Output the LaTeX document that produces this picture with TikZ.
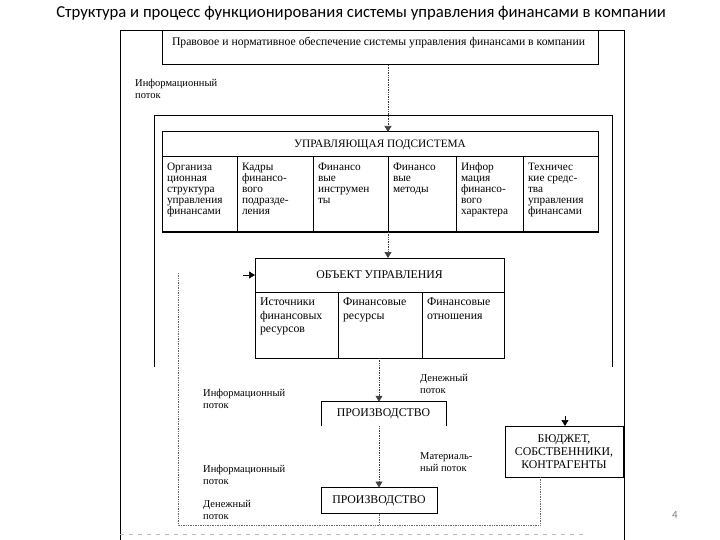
\documentclass[tikz,border=0pt]{standalone}
\usepackage{fontspec}
\setmainfont{Liberation Serif}
\newfontfamily\titlefont{Carlito}
\usepackage{tikz}
\usetikzlibrary{positioning, arrows.meta}

% text inside a cell, set from the top left corner
\newcommand{\celltext}[3]{\parbox[t][#2][t]{#1}{\vspace*{3pt}\raggedright #3}}

\begin{document}
\begin{tikzpicture}[x=1pt, y=-1pt,
  frame/.style={line width=1pt},
  box/.style={draw, line width=1pt, inner sep=0pt, outer sep=0pt, align=center, font=\fontsize{11.8}{13}\selectfont},
  cell/.style={draw, line width=1pt, inner xsep=5pt, inner ysep=3pt, outer sep=0pt, font=\fontsize{11.3}{11}\selectfont},
  ocell/.style={cell, font=\fontsize{11.8}{13.3}\selectfont},
  note/.style={anchor=north west, inner sep=0pt, align=left, font=\fontsize{10.5}{12}\selectfont},
  flow/.style={densely dotted, line width=0.7pt, draw=black!75, -{Triangle[length=6pt, width=7pt]}},
  link/.style={densely dotted, line width=0.7pt, draw=black!60},
  tip/.style={line width=0.7pt, -{Triangle[length=6pt, width=7pt]}}
]
  \useasboundingbox[fill=white] (0,0) rectangle (720,540);

  \node[font=\titlefont\fontsize{16.7}{20}\selectfont] (title) at (361,13)
    {Структура и процесс функционирования системы управления финансами в компании};

  % внешняя рамка
  \draw[frame] (120,540) -- (120,31) -- (624,31) -- (624,540);

  \node[box, anchor=north west, inner xsep=10pt, inner ysep=3pt, font=\fontsize{11.7}{13}\selectfont] (legal) at (162,31)
    {\celltext{416pt}{28pt}{Правовое и нормативное обеспечение системы управления финансами в компании}};
  \node[note] (info1) at (135,79) {Информационный\\поток};

  % управляющая подсистема
  \draw[frame] (154,367) -- (154,116) -- (612,116) -- (612,367);
  \node[box, anchor=north west, minimum width=436, minimum height=25, font=\fontsize{11.3}{13}\selectfont] (mhead) at (162,132)
    {УПРАВЛЯЮЩАЯ ПОДСИСТЕМА};
  \node[cell, anchor=north west] (m1) at (mhead.south west)
    {\celltext{65pt}{69pt}{Организа\\ционная\\структура\\управления\\финансами}};
  \node[cell, right=0pt of m1] (m2) {\celltext{66pt}{69pt}{Кадры\\финансо-\\вого\\подразде-\\ления}};
  \node[cell, right=0pt of m2] (m3) {\celltext{65pt}{69pt}{Финансо\\вые\\инструмен\\ты}};
  \node[cell, right=0pt of m3] (m4) {\celltext{58pt}{69pt}{Финансо\\вые\\методы}};
  \node[cell, right=0pt of m4] (m5) {\celltext{57pt}{69pt}{Инфор\\мация\\финансо-\\вого\\характера}};
  \node[cell, right=0pt of m5] (m6) {\celltext{65pt}{69pt}{Техничес\\кие средс-\\тва\\управления\\финансами}};

  % объект управления
  \node[box, anchor=north west, minimum width=249, minimum height=34] (ohead) at (255,258)
    {ОБЪЕКТ УПРАВЛЕНИЯ};
  \node[ocell, anchor=north west] (o1) at (ohead.south west)
    {\celltext{73pt}{60pt}{Источники\\финансовых\\ресурсов}};
  \node[ocell, right=0pt of o1] (o2) {\celltext{74pt}{60pt}{Финансовые\\ресурсы}};
  \node[ocell, right=0pt of o2] (o3) {\celltext{72pt}{60pt}{Финансовые\\отношения}};
  \coordinate (oin) at (243,275);

  % производство
  \node[box, draw=none, minimum width=125, minimum height=24.5] (prod1) at (383.5,414) {ПРОИЗВОДСТВО};
  \draw[frame] (prod1.south west) -- (prod1.north west) -- (prod1.north east) -- (prod1.south east);
  \node[box, minimum width=116, minimum height=26] (prod2) at (379,500.5) {ПРОИЗВОДСТВО};
  \node[box, minimum width=118, minimum height=51, font=\fontsize{11.8}{13}\selectfont] (budget) at (564,451.5)
    {БЮДЖЕТ,\\СОБСТВЕННИКИ,\\КОНТРАГЕНТЫ};
  \coordinate (bin) at (565,416);

  \node[note] (money1) at (420,374) {Денежный\\поток};
  \node[note] (info2) at (203,389) {Информационный\\поток};
  \node[note] (mat) at (420,452) {Материаль-\\ный поток};
  \node[note] (info3) at (203,465) {Информационный\\поток};
  \node[note] (money2) at (203,500) {Денежный\\поток};

  % потоки
  \draw[flow] ([xshift=8pt]legal.south) -- ([xshift=8pt]mhead.north);
  \draw[flow] (m3.south east) -- (m3.south east |- ohead.north);
  \draw[tip] (oin) -- (oin -| ohead.west);
  \draw[flow] (prod2.north |- o2.south) -- (prod2.north |- prod1.north);
  \draw[flow] (prod2.north |- prod1.south) -- (prod2.north);
  \draw[tip] (bin) -- (bin |- budget.north);

  \coordinate (lt) at (178,273);
  \coordinate (base) at (178,525);
  \draw[link] (lt) -- (base) -| ([xshift=-24pt]budget.south);
  \draw[link] (prod2.south) -- (prod2.south |- base);
  \draw[gray!55, line width=0.8pt, dash pattern=on 4pt off 5pt] (120,534) -- (588,534);

  \node[text=gray, font=\titlefont\fontsize{11}{13}\selectfont] (pnum) at (675,515) {4};
\end{tikzpicture}
\end{document}
